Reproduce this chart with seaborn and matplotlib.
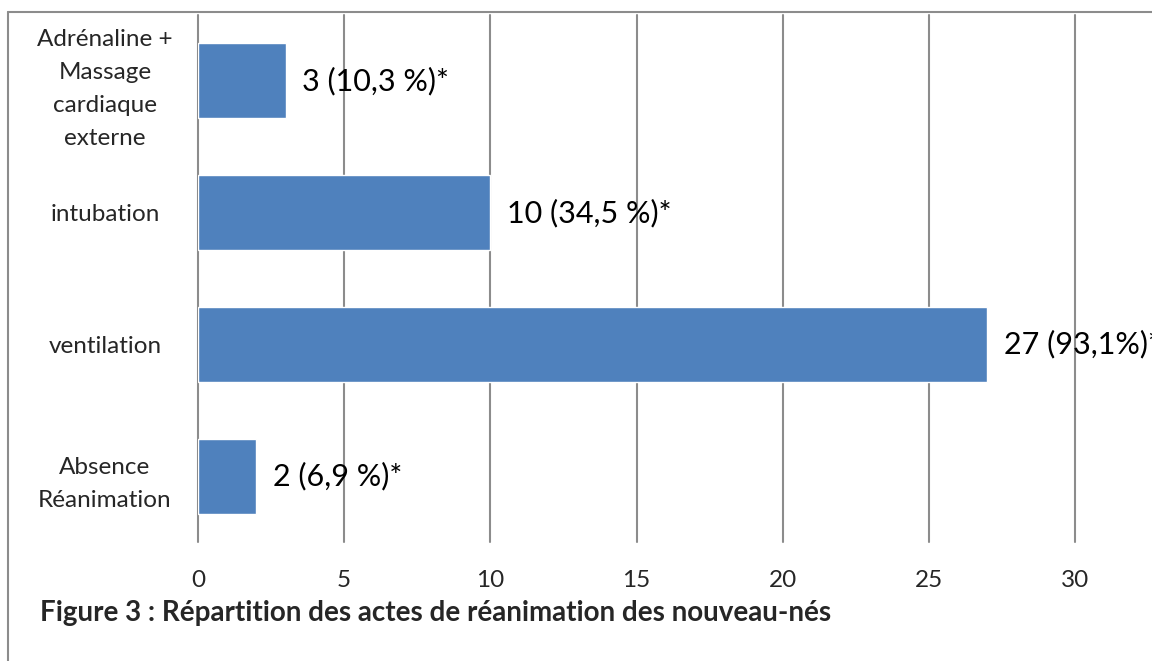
import matplotlib
matplotlib.use("Agg")
import matplotlib.pyplot as plt
import seaborn as sns
import pandas as pd
from matplotlib.lines import Line2D

categories = ["Adrénaline +\nMassage\ncardiaque\nexterne", "intubation", "ventilation", "Absence\nRéanimation"]
counts = [3, 10, 27, 2]
bar_labels = ["3 (10,3 %)*", "10 (34,5 %)*", "27 (93,1%)*", "2 (6,9 %)*"]
xticks = [0, 5, 10, 15, 20, 25, 30]
title = "Figure 3 : Répartition des actes de réanimation des nouveau-nés"

df = pd.DataFrame({"acte": categories, "n": counts})

sns.set_theme(style="white")
plt.rcParams["font.family"] = ["Lato", "DejaVu Sans"]

fig = plt.figure(figsize=(11.52, 6.61), dpi=100)
ax = fig.add_axes([198 / 1152, 1 - 542 / 661, (1075 - 198) / 1152, (542 - 15) / 661])

sns.barplot(data=df, x="n", y="acte", orient="h", color="#4F81BD", saturation=1,
            width=0.57, ax=ax, zorder=2)

ax.set_xlim(0, 30)
ax.set_ylim(3.5, -0.5)
ax.set_xticks(xticks)
ax.set_xticklabels([str(t) for t in xticks], fontsize=17.5)
ax.set_yticks(range(len(categories)))
ax.set_yticklabels(categories, fontsize=17.5, ha="center", linespacing=1.72)
ax.tick_params(axis="y", pad=67, length=0)
ax.tick_params(axis="x", pad=20, length=0)
ax.set_xlabel("")
ax.set_ylabel("")
for s in ax.spines.values():
    s.set_visible(False)
for t in xticks:
    ax.axvline(t, color="#8c8c8c", lw=1.5, zorder=1, clip_on=False)

# étiquettes des barres (la dernière déborde du cadre comme dans l'original)
for i, (v, lab) in enumerate(zip(counts, bar_labels)):
    ax.annotate(lab, (v, i), xytext=(12, 0), textcoords="offset points",
                va="center", ha="left", fontsize=22, color="black", zorder=3,
                annotation_clip=False)

fig.text(40 / 1152, 1 - 613 / 661, title, fontsize=20, fontweight="bold",
         ha="left", va="center")

# cadre gris autour du graphique
fig.add_artist(Line2D([8 / 1152, 8 / 1152], [0, 1 - 12 / 661], color="#8c8c8c", lw=1.5))
fig.add_artist(Line2D([8 / 1152, 1], [1 - 12 / 661, 1 - 12 / 661], color="#8c8c8c", lw=1.5))

fig.savefig("out.png", dpi=100)
